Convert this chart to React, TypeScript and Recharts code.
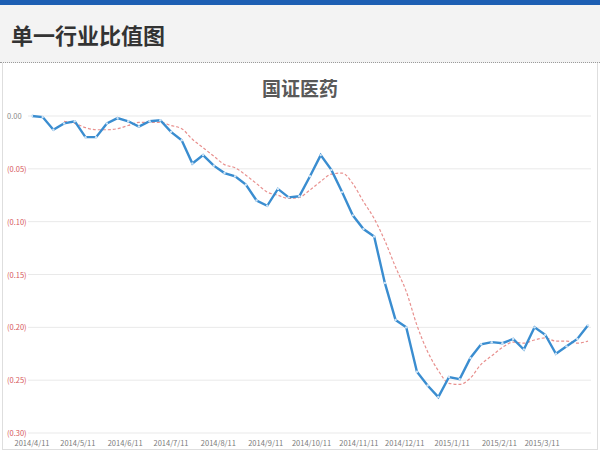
import React from "react";
import { LineChart, Line, XAxis, YAxis, CartesianGrid } from "recharts";

// weekly closes, first week 2014/4/11
const START = "2014/4/11";

const ratio = [
  0.0, -0.001, -0.013, -0.007, -0.005, -0.02, -0.02, -0.007, -0.002, -0.005,
  -0.01, -0.005, -0.004, -0.015, -0.023, -0.045, -0.037, -0.047, -0.054,
  -0.057, -0.065, -0.08, -0.085, -0.069, -0.077, -0.076, -0.057, -0.037,
  -0.051, -0.072, -0.094, -0.107, -0.114, -0.158, -0.193, -0.2, -0.242,
  -0.255, -0.266, -0.247, -0.249, -0.229, -0.216, -0.214, -0.215, -0.211,
  -0.221, -0.2, -0.207, -0.225, -0.218, -0.211, -0.198,
];

// 4-week moving average (dashed red), empty for the first three weeks
const avg = [
  null, null, null, -0.005, -0.007, -0.011, -0.013, -0.013, -0.012, -0.009,
  -0.006, -0.006, -0.006, -0.009, -0.012, -0.022, -0.03, -0.038, -0.046,
  -0.049, -0.056, -0.064, -0.072, -0.075, -0.078, -0.077, -0.07, -0.062,
  -0.055, -0.054, -0.064, -0.081, -0.097, -0.118, -0.143, -0.166, -0.198,
  -0.223, -0.241, -0.253, -0.254, -0.248, -0.235, -0.227, -0.219, -0.214,
  -0.215, -0.212, -0.21, -0.213, -0.213, -0.215, -0.213,
];

const monthTicks = [
  "2014/4/11", "2014/5/11", "2014/6/11", "2014/7/11", "2014/8/11",
  "2014/9/11", "2014/10/11", "2014/11/11", "2014/12/11", "2015/1/11",
  "2015/2/11", "2015/3/11",
];

const yTicks = [0, -0.05, -0.1, -0.15, -0.2, -0.25, -0.3];

const DAY = 86400000;
const toTime = (s: string) => {
  const [y, m, d] = s.split("/").map(Number);
  return Date.UTC(y, m - 1, d);
};
const t0 = toTime(START);
const dayOf = (s: string) => Math.round((toTime(s) - t0) / DAY);

const data = ratio.map((v, i) => ({ day: i * 7, ratio: v, avg: avg[i] }));
const tickDays = monthTicks.map(dayOf);

const fmtDay = (d: number) => {
  const dt = new Date(t0 + d * DAY);
  return `${dt.getUTCFullYear()}/${dt.getUTCMonth() + 1}/${dt.getUTCDate()}`;
};

const YTick = ({ y, payload }: any) => {
  const v = payload.value;
  const neg = v < 0;
  const label = neg ? `(${Math.abs(v).toFixed(2)})` : v.toFixed(2);
  return (
    <text
      x={7}
      y={y}
      dy={3}
      textAnchor="start"
      fontSize={7.5}
      fill={neg ? "#d6575a" : "#8a8a8a"}
    >
      {label}
    </text>
  );
};

export default function App() {
  return (
    <div
      style={{
        position: "absolute",
        left: 0,
        top: 0,
        width: 600,
        height: 455,
        background: "#fff",
        fontFamily: "'Noto Sans CJK SC', 'Noto Sans', sans-serif",
        overflow: "hidden",
      }}
    >
      <div style={{ position: "absolute", left: 0, top: 0, width: 600, height: 5, background: "#1d5fb3" }} />
      <div
        style={{
          position: "absolute",
          left: 0,
          top: 5,
          width: 600,
          height: 57,
          background: "#f3f3f3",
          borderBottom: "1px dotted #9a9a9a",
        }}
      />
      <div
        style={{
          position: "absolute",
          left: 11,
          top: 19,
          fontSize: 22,
          fontWeight: 700,
          color: "#333",
          lineHeight: "30px",
        }}
      >
        单一行业比值图
      </div>
      <div
        style={{
          position: "absolute",
          left: 2,
          top: 63,
          width: 594,
          height: 386,
          border: "1px solid #dedede",
          borderTop: "none",
        }}
      />
      <div
        style={{
          position: "absolute",
          left: 0,
          top: 74,
          width: 600,
          textAlign: "center",
          fontSize: 19,
          fontWeight: 700,
          color: "#595959",
          lineHeight: "28px",
        }}
      >
        国证医药
      </div>
      <div style={{ position: "absolute", left: 0, top: 0 }}>
        <LineChart
          width={600}
          height={455}
          data={data}
          margin={{ top: 116, right: 9, bottom: 0, left: 0 }}
        >
          <CartesianGrid vertical={false} stroke="#e9e9e9" />
          <XAxis
            dataKey="day"
            type="number"
            domain={[0, 364]}
            ticks={tickDays}
            tickFormatter={fmtDay}
            interval={0}
            padding={{ left: 4, right: 3 }}
            axisLine={false}
            tickLine={false}
            height={22}
            tickMargin={2}
            tick={{ fontSize: 7.5, fill: "#7a7a7a" }}
          />
          <YAxis
            type="number"
            domain={[-0.3, 0]}
            ticks={yTicks}
            width={28}
            axisLine={false}
            tickLine={false}
            tick={<YTick />}
          />
          <Line
            dataKey="avg"
            type="monotone"
            stroke="#e8908e"
            strokeWidth={1.2}
            strokeDasharray="3 2"
            dot={false}
            isAnimationActive={false}
          />
          <Line
            dataKey="ratio"
            type="linear"
            stroke="#3a8dd0"
            strokeWidth={2.4}
            dot={{ r: 1.2, fill: "#cfe4f6", stroke: "none" }}
            isAnimationActive={false}
          />
        </LineChart>
      </div>
    </div>
  );
}
